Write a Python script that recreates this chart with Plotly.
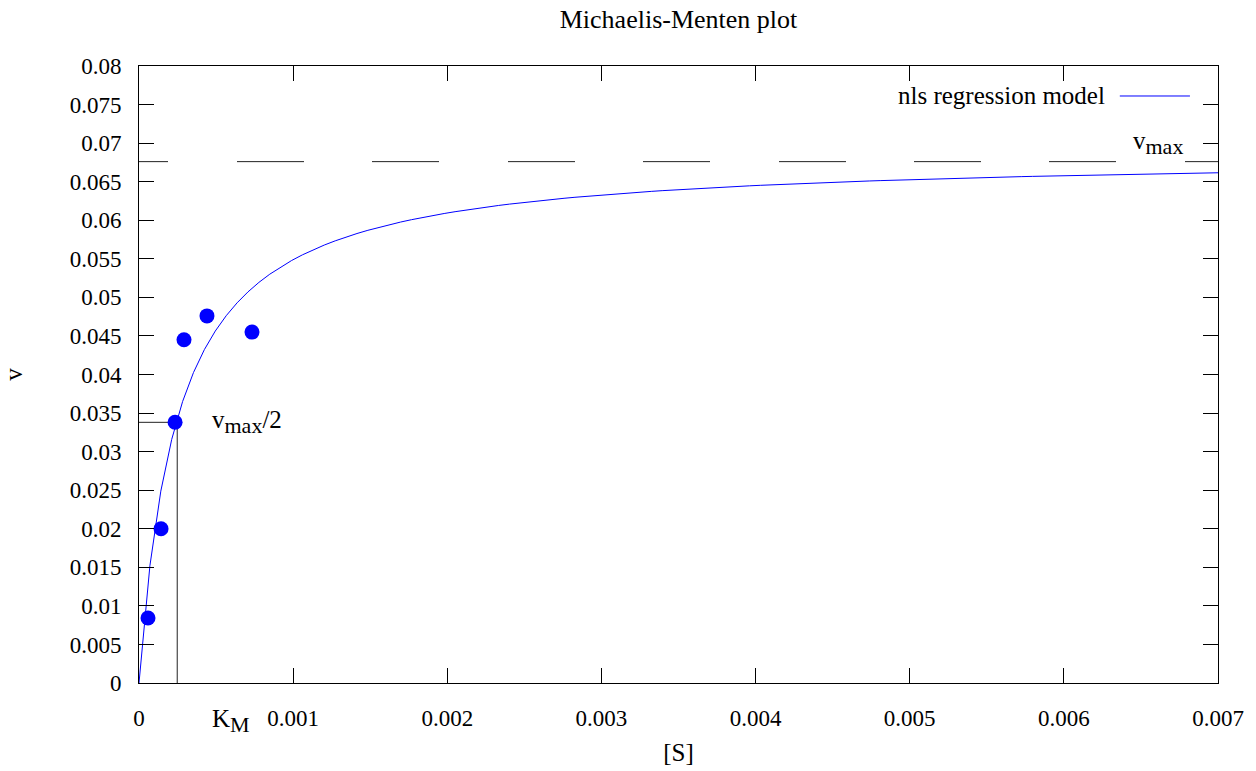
import plotly.graph_objects as go

# Measured data (substrate concentration [S], rate v)
S_data = [0.0000584, 0.000143, 0.000234, 0.000292, 0.000441, 0.000733]
v_data = [0.00843, 0.0200, 0.0338, 0.0445, 0.0476, 0.0455]

# Fitted nls model parameters (Michaelis-Menten)
VMAX_FIT = 0.0685
KM = 0.000248
# Reference lines shown on the plot
VMAX_LINE = 0.0676
VMAX_HALF = 0.0338

X_MAX = 0.007
N_SAMPLES = 100

x_tickvals = [0, 0.001, 0.002, 0.003, 0.004, 0.005, 0.006, 0.007]
x_ticktext = ["0", "0.001", "0.002", "0.003", "0.004", "0.005", "0.006", "0.007"]
y_tickvals = [i * 0.005 for i in range(17)]
y_ticktext = ["0", "0.005", "0.01", "0.015", "0.02", "0.025", "0.03", "0.035", "0.04",
              "0.045", "0.05", "0.055", "0.06", "0.065", "0.07", "0.075", "0.08"]

S_model = [i * X_MAX / (N_SAMPLES - 1) for i in range(N_SAMPLES)]
v_model = [VMAX_FIT * s / (KM + s) for s in S_model]

FONT = "'Liberation Serif', 'DejaVu Serif', 'Times New Roman', serif"
FS = 23
FL = 25

fig = go.Figure()

# vmax dashed line
fig.add_trace(go.Scatter(
    x=[0, X_MAX], y=[VMAX_LINE, VMAX_LINE], mode="lines",
    line=dict(color="#222222", width=1,
              dash="29px,69px,67px,68px,67px,69px,67px,68px,67px,69px,67px,68px,67px,68px,67px,69px,67px"),
    showlegend=False, hoverinfo="skip"))

# Km / vmax/2 guide lines
fig.add_trace(go.Scatter(
    x=[0, KM, KM], y=[VMAX_HALF, VMAX_HALF, 0], mode="lines",
    line=dict(color="#222222", width=1), showlegend=False, hoverinfo="skip"))

# model curve
fig.add_trace(go.Scatter(
    x=S_model, y=v_model, mode="lines", name="nls regression model",
    line=dict(color="#0000ff", width=1), showlegend=False))

# data points
fig.add_trace(go.Scatter(
    x=S_data, y=v_data, mode="markers",
    marker=dict(color="#0000ff", size=15, line=dict(width=0)),
    showlegend=False))

axis_common = dict(
    showgrid=False, zeroline=False, showline=True, linecolor="black", linewidth=1,
    ticks="inside", ticklen=15, tickcolor="black", tickwidth=1, mirror="ticks",
    tickfont=dict(family=FONT, size=FS, color="black"), automargin=False,
)

fig.update_xaxes(range=[0, X_MAX], tickmode="array", tickvals=x_tickvals, ticktext=x_ticktext,
                 ticklabelstandoff=14,
                 title=dict(text="[S]", font=dict(family=FONT, size=FL, color="black"), standoff=13),
                 **axis_common)
fig.update_yaxes(range=[0, 0.08], tickmode="array", tickvals=y_tickvals, ticktext=y_ticktext,
                 ticklabelstandoff=12,
                 title=dict(text="v", font=dict(family=FONT, size=FL, color="black"), standoff=40),
                 **axis_common)

SUB = "<sub><span style='font-size:22px'>{}</span></sub>"

annotations = [
    dict(text="v" + SUB.format("max"), x=0.006786, y=VMAX_LINE, xref="x", yref="y",
         xanchor="right", yanchor="bottom", yshift=1, showarrow=False,
         font=dict(family=FONT, size=FL, color="black")),
    dict(text="v" + SUB.format("max") + "/2", x=0.00046, y=VMAX_HALF, xref="x", yref="y",
         xanchor="left", yanchor="middle", yshift=0, showarrow=False,
         font=dict(family=FONT, size=FL, color="black")),
    dict(text="K" + SUB.format("M"), x=0.00046, y=0, xref="x", yref="y",
         xanchor="left", yanchor="top", yshift=-20, showarrow=False,
         font=dict(family=FONT, size=FL, color="black")),
    dict(text="nls regression model", x=0.897, y=0.9514, xref="paper", yref="paper",
         xanchor="right", yanchor="middle", showarrow=False,
         font=dict(family=FONT, size=FL, color="black")),
]

shapes = [
    dict(type="line", xref="paper", yref="paper", x0=0.909, x1=0.974, y0=0.9514, y1=0.9514,
         line=dict(color="#0000ff", width=1)),
]

fig.update_layout(
    width=1256, height=771,
    margin=dict(l=139, r=38, t=66, b=88),
    paper_bgcolor="white", plot_bgcolor="white",
    font=dict(family=FONT, size=FS, color="black"),
    title=dict(text="Michaelis-Menten plot", x=0.5, xref="paper", y=0.975, yanchor="middle",
               font=dict(family=FONT, size=26, color="black")),
    annotations=annotations, shapes=shapes,
    showlegend=False,
)

fig.write_html("out.html")
